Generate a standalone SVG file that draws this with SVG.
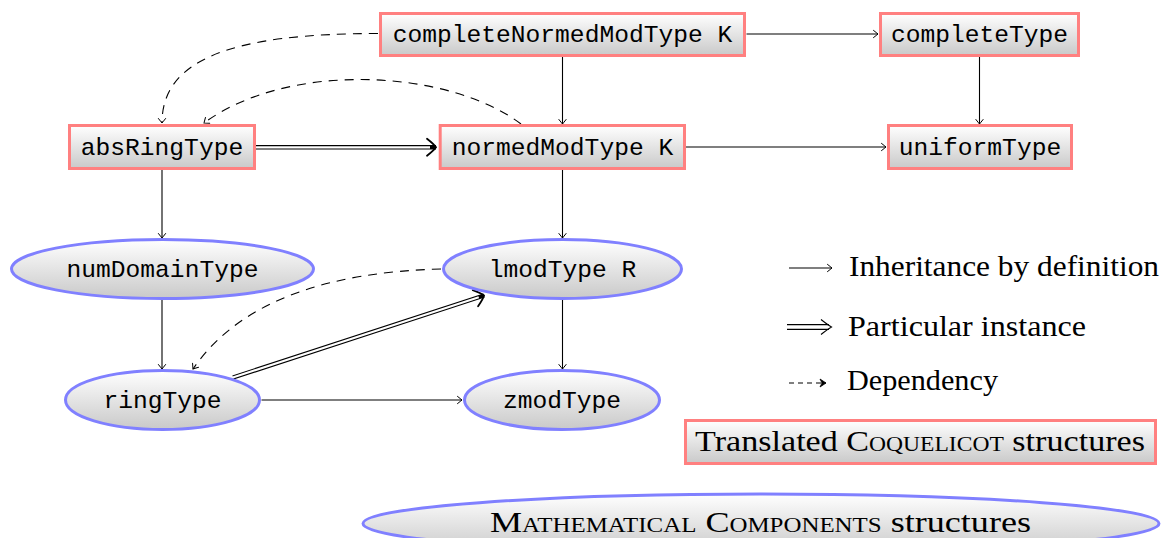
<svg xmlns="http://www.w3.org/2000/svg" width="1167" height="538" viewBox="0 0 1167 538">
<style>
.box{fill:url(#g);stroke:#ff8080;stroke-width:3}
.ell{fill:url(#g);stroke:#8080ff;stroke-width:3}
.tt{font-family:"Liberation Mono","DejaVu Sans Mono",monospace;font-size:24.6px;fill:#000;text-anchor:middle}
.rm{font-family:"Liberation Serif","DejaVu Serif",serif;font-size:29px;fill:#000}
.e{fill:none;stroke:#000;stroke-width:1.1;marker-end:url(#to)}
.d{fill:none;stroke:#000;stroke-width:1.1;stroke-dasharray:9 7;marker-end:url(#to)}
.dblb{fill:none;stroke:#000;stroke-width:4.4;marker-end:url(#big)}
.dblw{fill:none;stroke:#fff;stroke-width:2.2}
</style>
<defs>
<linearGradient id="g" x1="0" y1="0" x2="0" y2="1">
<stop offset="0" stop-color="#ffffff"/>
<stop offset="1" stop-color="#c9c9c9"/>
</linearGradient>
<marker id="to" markerUnits="userSpaceOnUse" orient="auto" markerWidth="12" markerHeight="12" refX="0" refY="0" viewBox="-6 -6 12 12" overflow="visible">
<path d="M-4.5,-3.6 Q-1.2,-1 0,0 Q-1.2,1 -4.5,3.6" fill="none" stroke="#000" stroke-width="1" stroke-linecap="round"/>
</marker>
<marker id="big" markerUnits="userSpaceOnUse" orient="auto" markerWidth="24" markerHeight="24" refX="0" refY="0" viewBox="-12 -12 24 24" overflow="visible">
<path d="M-9,-8.5 Q-2,-3 0,0 Q-2,3 -9,8.5" fill="none" stroke="#000" stroke-width="1.8" stroke-linecap="round"/>
</marker>
<marker id="sol" markerUnits="userSpaceOnUse" orient="auto" markerWidth="12" markerHeight="12" refX="0" refY="0" viewBox="-6 -6 12 12" overflow="visible">
<path d="M-6,-4 L0,0 L-6,4 L-4,0 Z" fill="#000" stroke="#000" stroke-width="0.8" stroke-linejoin="round"/>
</marker>
</defs>
<rect width="1167" height="538" fill="#fff"/>

<g id="connectors">
<path class="e" d="M746.5,34 L878,34"/>
<path class="e" d="M562.5,57 L562.5,124"/>
<path class="e" d="M979.5,57 L979.5,124"/>
<path class="e" d="M686,147 L886,147"/>
<path class="e" d="M162,170 L162,238"/>
<path class="e" d="M562.5,170 L562.5,238"/>
<path class="e" d="M162,300 L162,369"/>
<path class="e" d="M562.5,300 L562.5,369"/>
<path class="e" d="M261.5,400 L462,400"/>
<path class="dblb" d="M256,147.3 L436,147.3"/>
<path class="dblw" d="M255,147.3 L430,147.3"/>
<path class="dblb" d="M233,377.5 L484,295.5"/>
<path class="dblw" d="M232,377.8 L478.8,297.2"/>
<path class="d" d="M378,33.5 C230,33.5 162,60 162,123"/>
<path class="d" d="M521,124 C450,70 290,60 204,123"/>
<path class="d" d="M441,269 C330,272 240,300 193,369"/>
</g>

<g id="completeNormedModType">
<rect class="box" x="380.5" y="13.5" width="364" height="42"/>
<text class="tt" x="562.5" y="41.5">completeNormedModType K</text>
</g>
<g id="completeType">
<rect class="box" x="880.5" y="13.5" width="198" height="42"/>
<text class="tt" x="979.5" y="41.5">completeType</text>
</g>
<g id="absRingType">
<rect class="box" x="69.5" y="125.5" width="185" height="43"/>
<text class="tt" x="162" y="154.5">absRingType</text>
</g>
<g id="normedModType">
<rect class="box" x="440.2" y="125.5" width="244.3" height="43"/>
<text class="tt" x="562.5" y="154.5">normedModType K</text>
</g>
<g id="uniformType">
<rect class="box" x="888.5" y="125.5" width="183" height="43"/>
<text class="tt" x="980" y="154.5">uniformType</text>
</g>
<g id="numDomainType">
<ellipse class="ell" cx="162.5" cy="269" rx="151" ry="29.5"/>
<text class="tt" x="162.5" y="276.5">numDomainType</text>
</g>
<g id="lmodType">
<ellipse class="ell" cx="562.5" cy="269" rx="119" ry="29.5"/>
<text class="tt" x="562.5" y="276.5">lmodType R</text>
</g>
<g id="ringType">
<ellipse class="ell" cx="162.5" cy="400" rx="97" ry="29.5"/>
<text class="tt" x="162.5" y="407.5">ringType</text>
</g>
<g id="zmodType">
<ellipse class="ell" cx="562" cy="400" rx="97.5" ry="29.5"/>
<text class="tt" x="562" y="407.5">zmodType</text>
</g>

<g id="legend">
<line x1="789" y1="268" x2="832" y2="268" stroke="#000" stroke-width="1.1" marker-end="url(#to)"/>
<text class="rm" x="849" y="276" textLength="310" lengthAdjust="spacingAndGlyphs">Inheritance by definition</text>
<line x1="787" y1="324.6" x2="829" y2="324.6" stroke="#000" stroke-width="1.1"/>
<line x1="787" y1="329.4" x2="829" y2="329.4" stroke="#000" stroke-width="1.1"/>
<path d="M821,319.5 Q828,325 831.5,327 Q828,329 821,334.5" fill="none" stroke="#000" stroke-width="1.1"/>
<text class="rm" x="848" y="336" textLength="238" lengthAdjust="spacingAndGlyphs">Particular instance</text>
<line x1="789" y1="383" x2="826" y2="383" stroke="#000" stroke-width="1.1" stroke-dasharray="5 4" marker-end="url(#sol)"/>
<text class="rm" x="847" y="390" textLength="151" lengthAdjust="spacingAndGlyphs">Dependency</text>
</g>
<g id="legend-coquelicot">
<rect class="box" x="685.5" y="420.5" width="470" height="43"/>
<text class="rm" x="695" y="451" textLength="450" lengthAdjust="spacingAndGlyphs">Translated <tspan font-variant="small-caps">Coquelicot</tspan> structures</text>
</g>
<g id="legend-mathcomp">
<ellipse class="ell" cx="761" cy="523.5" rx="398" ry="29.5"/>
<text class="rm" x="490" y="532" textLength="541" lengthAdjust="spacingAndGlyphs"><tspan font-variant="small-caps">Mathematical Components</tspan> structures</text>
</g>
</svg>
